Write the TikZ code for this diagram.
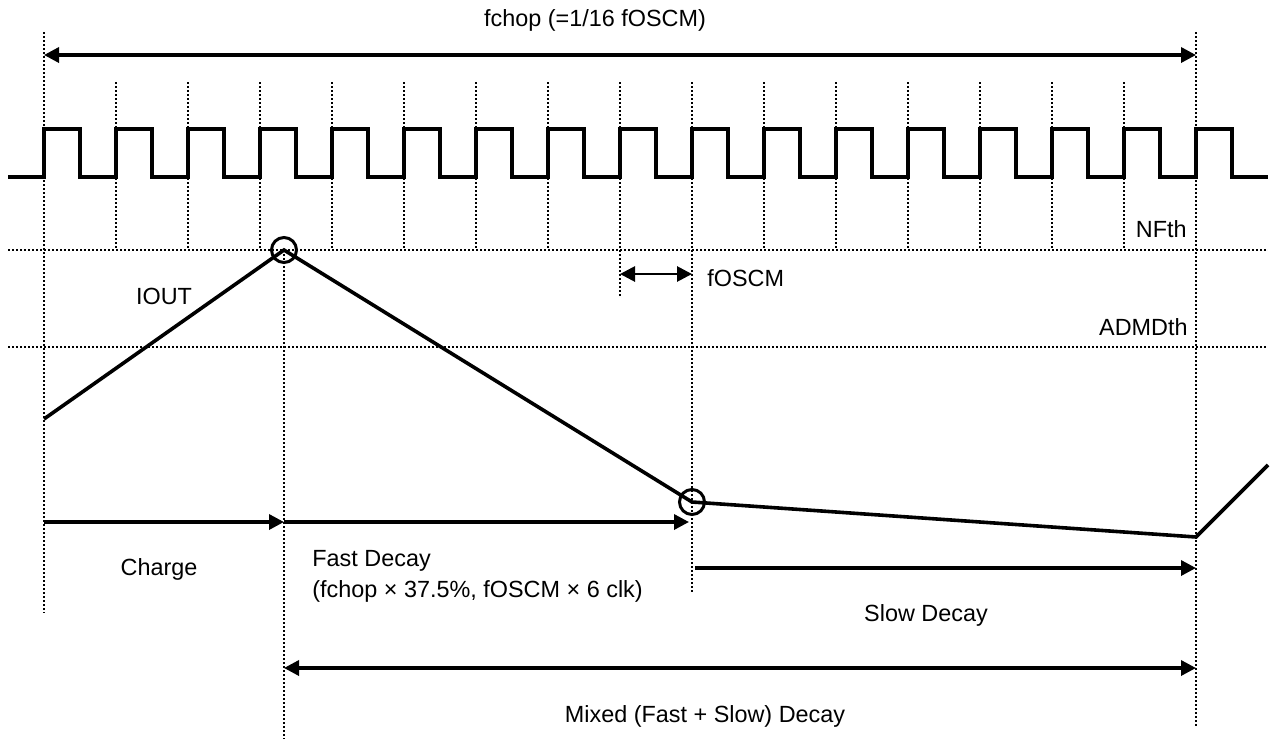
\documentclass[tikz,border=0pt]{standalone}
\usepackage{fontspec}
\setmainfont{Liberation Sans}
\usetikzlibrary{arrows.meta,positioning,calc}

\begin{document}
\begin{tikzpicture}[x=0.5pt,y=-0.5pt,
  font=\fontsize{11.7}{14}\selectfont,
  >={Triangle[length=7.5pt,width=7.5pt]},
  grid/.style={line width=1.2pt,dash pattern=on 1pt off 1pt},
  wave/.style={line width=1.8pt,line join=miter},
  span/.style={line width=1.7pt},
  txt/.style={inner sep=0pt,anchor=base},
  hit/.style={circle,draw,line width=1.5pt,minimum size=12.5pt,inner sep=0pt}]
\useasboundingbox (0,0) rectangle (1271,740);
% instants
\coordinate (t0top) at (44,32);   \coordinate (t0bot) at (44,613);
\coordinate (tEtop) at (1196,32); \coordinate (tEbot) at (1196,727);
\coordinate (pk) at (284,250);    \coordinate (pkbot) at (284,739);
\coordinate (lo) at (692,502);    \coordinate (lotop) at (692,82);
\coordinate (lobot) at (692,593);
\coordinate (ctop) at (620,82);   \coordinate (cbot) at (620,298);
\coordinate (st) at (44,419);     \coordinate (sl) at (1196,537);
\coordinate (en) at (1268,465);
\coordinate (nfL) at (8,250);     \coordinate (nfR) at (1268,250);
\coordinate (adL) at (8,347);     \coordinate (adR) at (1268,347);
% clock edges
\foreach \k in {0,...,6,9,10,11,12,13,14}
  \draw[grid] ({116+72*\k},82) -- ({116+72*\k},250);
\draw[grid] (t0top) -- (t0bot);
\draw[grid] (tEtop) -- (tEbot);
\draw[grid] (ctop) -- (cbot);
\draw[grid] (lotop) -- (lobot);
\draw[grid] (pk) -- (pkbot);
\draw[grid] (nfL) -- (nfR);
\draw[grid] (adL) -- (adR);
% fOSCM clock
\draw[wave] (8,177) \foreach \k in {0,...,16}
  { -- ({44+72*\k},177) -- ({44+72*\k},129) -- ({80+72*\k},129) -- ({80+72*\k},177) }
  -- (1268,177);
% IOUT
\draw[wave] (st) -- (pk) -- (lo) -- (sl) -- (en);
\node[hit] (pkc) at (pk) {};
\node[hit] (loc) at (lo) {};
% spans
\coordinate (fcL) at (44,55);    \coordinate (fcR) at (1196,55);
\coordinate (osL) at (620,274);  \coordinate (osR) at (692,274);
\coordinate (chL) at (44,522);   \coordinate (chR) at (284,522);
\coordinate (faR) at (689,522);
\coordinate (sdL) at (695,568);  \coordinate (sdR) at (1196,568);
\coordinate (mxL) at (284,668);  \coordinate (mxR) at (1196,668);
\draw[span,<->] (fcL) -- (fcR);
\draw[line width=1.4pt,<->] (osL) -- (osR);
\draw[span,->] (chL) -- (chR);
\draw[span,->] (chR) -- (faR);
\draw[span,->] (sdL) -- (sdR);
\draw[span,<->] (mxL) -- (mxR);
% labels
\node[txt] (fchop) at (595,26) {fchop (=1/16 fOSCM)};
\node[txt,anchor=base east] (nfth) at (1187,237) {NFth};
\node[txt,anchor=base east] (admd) at (1188,335) {ADMDth};
\node[txt] (iout) at (164,304) {IOUT};
\node[txt,anchor=base west] (fosc) at (707,286) {fOSCM};
\node[txt] (chg) at (159,575) {Charge};
\node[txt,anchor=base west] (fast) at (312,566) {Fast Decay};
\node[txt,anchor=base west] (fastx) at (312,597) {(fchop × 37.5\%, fOSCM × 6 clk)};
\node[txt] (slow) at (926,621) {Slow Decay};
\node[txt] (mixd) at (705,722) {Mixed (Fast + Slow) Decay};
\end{tikzpicture}
\end{document}
